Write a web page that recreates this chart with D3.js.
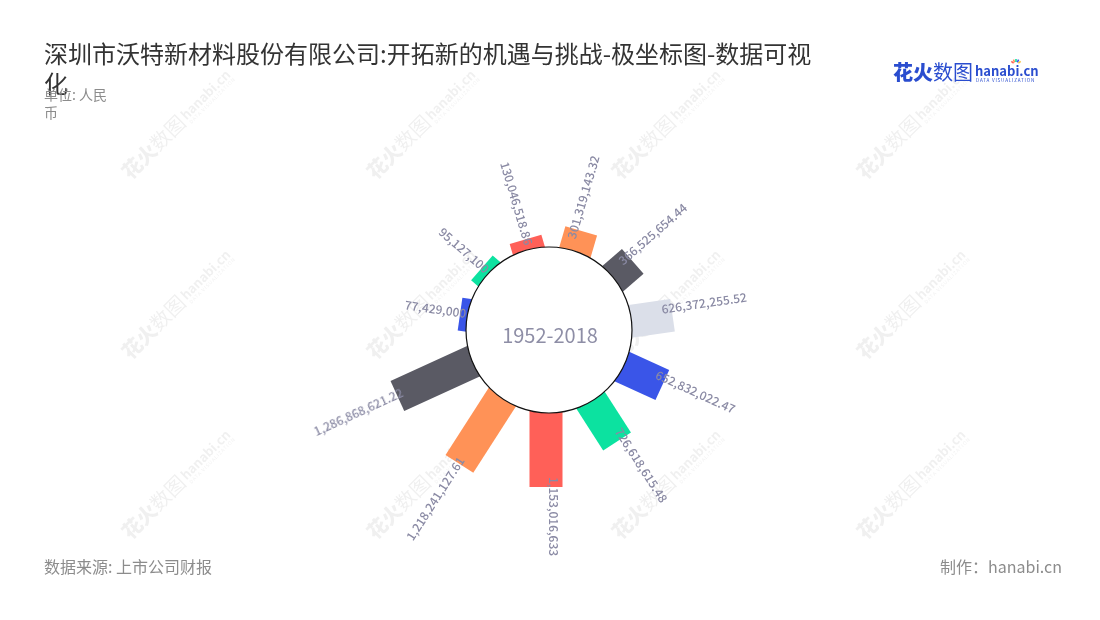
<!DOCTYPE html>
<html>
<head>
<meta charset="utf-8">
<script src="https://cdn.jsdelivr.net/npm/d3@7"></script>
<style>
  body { margin: 0; background: #ffffff; }
  svg { display: block; font-family: "Noto Sans CJK SC", "Noto Sans", sans-serif; }
</style>
</head>
<body>
<svg id="chart" width="1100" height="620"></svg>
<script>
// ---------------- data ----------------
const categories = ["2008", "2009", "2010", "2011", "2012", "2013", "2014", "2015", "2016", "2017", "2018"];
const values = [77429000, 95127100, 130046518.86, 301319143.32, 366525654.44, 626372255.52,
                652832022.47, 726618615.48, 1153016633, 1218241127.61, 1286868621.22];
const barColors = ["#3a55e8", "#0ce2a0", "#ff6058", "#ff9257", "#5a5a64", "#dbdfe9"];
const titleText = "深圳市沃特新材料股份有限公司:开拓新的机遇与挑战-极坐标图-数据可视化";
const unitText = "单位: 人民币";
const centerText = "1952-2018";
const sourceText = "数据来源: 上市公司财报";
const creditText = "制作：hanabi.cn";

// ---------------- layout ----------------
const W = 1100, H = 620;
const cx = 549, cy = 330, innerR = 83;
const barW = 33, barShift = 3;
const svg = d3.select("#chart");

function addWrapped(parent, text, x, y, maxW, lineH, attrs) {
  const probe = parent.append("text");
  Object.entries(attrs).forEach(([k, v]) => probe.attr(k, v));
  const lines = [];
  let cur = "";
  for (const ch of Array.from(text)) {
    probe.text(cur + ch);
    if (probe.node().getComputedTextLength() > maxW && cur.length) {
      lines.push(cur); cur = ch;
    } else cur += ch;
  }
  if (cur) lines.push(cur);
  probe.remove();
  const t = parent.append("text");
  Object.entries(attrs).forEach(([k, v]) => t.attr(k, v));
  lines.forEach((l, i) => t.append("tspan").attr("x", x).attr("y", y + i * lineH).text(l));
  return t;
}

// ---------------- watermarks ----------------
const wm = svg.append("g").attr("opacity", 0.06).attr("fill", "#000");
for (let i = 0; i < 4; i++) {
  for (let j = 0; j < 3; j++) {
    const g = wm.append("g")
      .attr("transform", `translate(${132 + 245 * i},${182 + 180 * j}) rotate(-45)`);
    g.append("text").attr("x", 0).attr("y", -2).attr("font-size", 20).attr("font-weight", 900).text("花火");
    g.append("text").attr("x", 40).attr("y", -2).attr("font-size", 20).attr("font-weight", 400).text("数图");
    g.append("text").attr("x", 82).attr("y", -5).attr("font-size", 13).attr("font-weight", 700).text("hanabi.cn");
    g.append("text").attr("x", 83).attr("y", 1).attr("font-size", 5).attr("letter-spacing", 0.8).text("DATA VISUALIZATION");
  }
}

// ---------------- title / subtitle ----------------
addWrapped(svg, titleText, 44, 63, 770, 30,
  { "font-size": 24, "fill": "#333333" });
addWrapped(svg, unitText, 44, 100, 66, 18,
  { "font-size": 14, "fill": "#8c8c8c" });

// ---------------- logo ----------------
const logo = svg.append("g").attr("fill", "#2a4dcf");
logo.append("text").attr("x", 893).attr("y", 80).attr("font-size", 20).attr("font-weight", 900).text("花火");
logo.append("text").attr("x", 933).attr("y", 80).attr("font-size", 20).attr("font-weight", 400).text("数图");
logo.append("text").attr("x", 975).attr("y", 76).attr("font-size", 13).attr("font-weight", 700).text("hanabi.cn");
logo.append("text").attr("x", 976).attr("y", 82).attr("font-size", 4.6).attr("letter-spacing", 0.8).text("DATA VISUALIZATION");
const sparks = ["#ff6058", "#ff9257", "#0ce2a0", "#3a55e8", "#f5c342"];
sparks.forEach((c, k) => {
  const a = -Math.PI / 2 + (k - 2) * 0.45;
  logo.append("line")
    .attr("x1", 1016 + Math.cos(a) * 3).attr("y1", 65 + Math.sin(a) * 3)
    .attr("x2", 1016 + Math.cos(a) * 6).attr("y2", 65 + Math.sin(a) * 6)
    .attr("stroke", c).attr("stroke-width", 1.6);
});

// ---------------- polar bars ----------------
const start = 8 / 11 * 2 * Math.PI;
const angle = d3.scaleBand().domain(categories).range([start, start + 2 * Math.PI]).padding(0);
const radius = d3.scaleLinear().domain([0, d3.max(values)]).range([85.5, 165.3]);
const fmt = d3.format(",.2~f");
const deg = c => ((angle(c) + angle.bandwidth() / 2) * 180 / Math.PI) % 360;

const data = categories.map((c, i) => ({ c, v: values[i], i }));

const bars = svg.append("g");
bars.selectAll("rect").data(data).join("rect")
  .attr("transform", d => `translate(${cx},${cy}) rotate(${deg(d.c)})`)
  .attr("x", -barW / 2 + barShift)
  .attr("y", d => -radius(d.v))
  .attr("width", barW)
  .attr("height", d => radius(d.v))
  .attr("fill", d => barColors[d.i % barColors.length]);

svg.append("circle").attr("cx", cx).attr("cy", cy).attr("r", innerR)
  .attr("fill", "#ffffff").attr("stroke", "#111").attr("stroke-width", 1.2);

svg.append("text").attr("x", cx + 1).attr("y", cy + 4)
  .attr("text-anchor", "middle").attr("dominant-baseline", "central")
  .attr("font-size", 20).attr("fill", "#8e8ea6").text(centerText);

// ---------------- labels ----------------
svg.append("g").selectAll("text").data(data).join("text")
  .attr("transform", d => {
    const a = deg(d.c);
    const right = a <= 180.5;
    const r = radius(d.v) - (right ? 10 : 6);
    return `translate(${cx},${cy}) rotate(${a}) translate(0,${-r}) rotate(${right ? -90 : 90})`;
  })
  .attr("text-anchor", d => deg(d.c) <= 180.5 ? "start" : "end")
  .attr("font-size", 12)
  .attr("font-weight", 500)
  .attr("fill", "#8a8aa4")
  .text(d => fmt(d.v));

// ---------------- footer ----------------
svg.append("text").attr("x", 44).attr("y", 573).attr("font-size", 16).attr("fill", "#8c8c8c").text(sourceText);
svg.append("text").attr("x", 1062).attr("y", 573).attr("text-anchor", "end")
  .attr("font-size", 16).attr("fill", "#8c8c8c").text(creditText);
</script>
</body>
</html>
